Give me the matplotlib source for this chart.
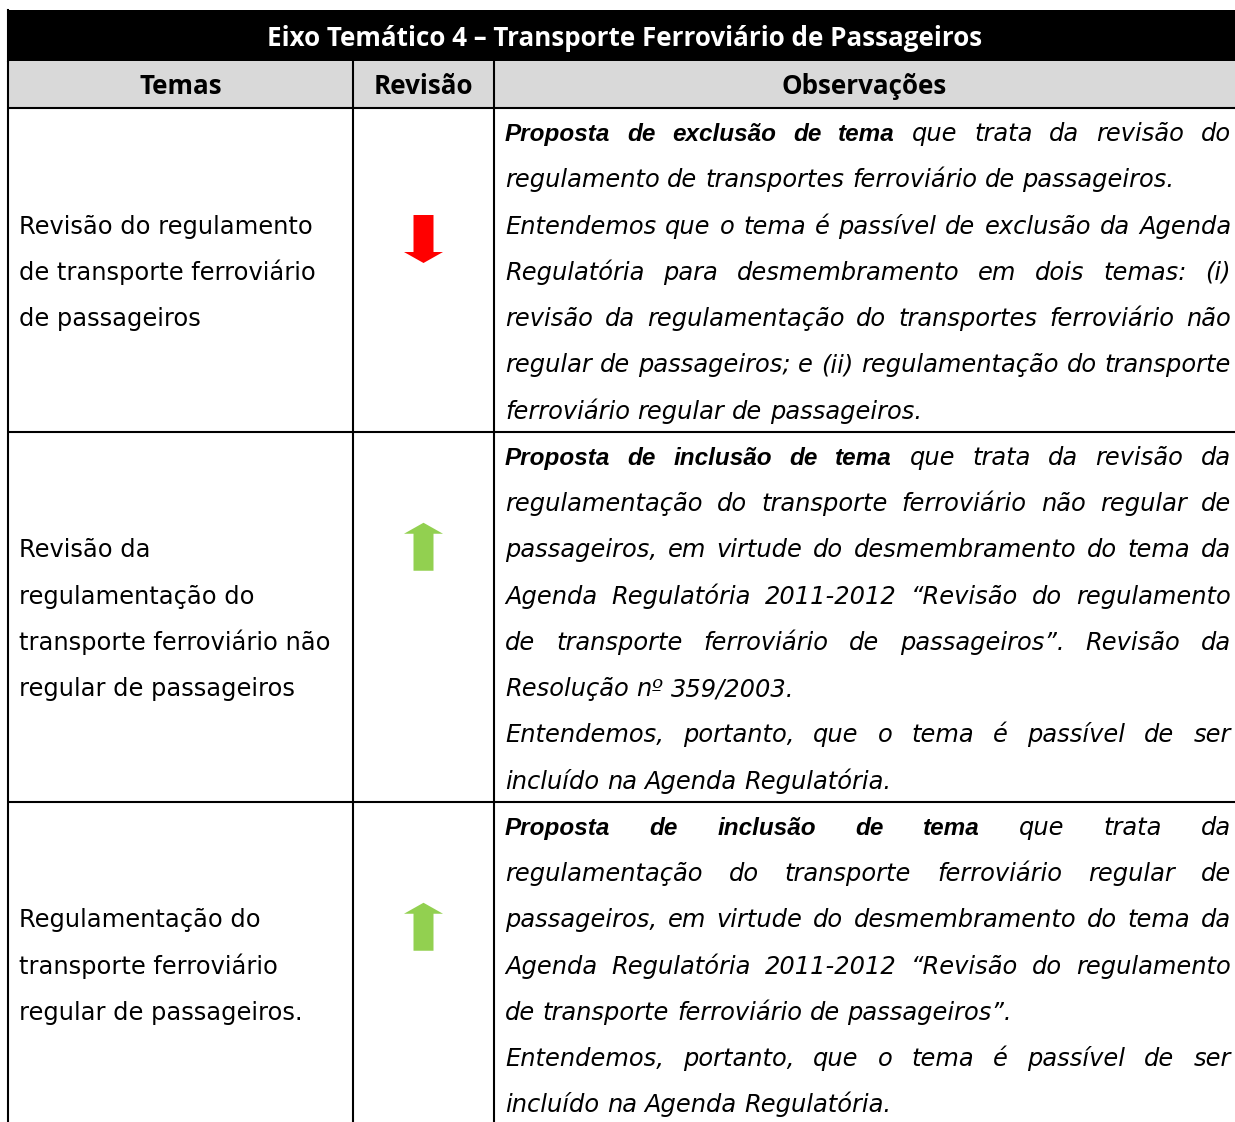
import matplotlib
matplotlib.use("Agg")
import matplotlib.pyplot as plt
from matplotlib.patches import Rectangle, Polygon

W, H = 1235, 1122
HEAD_FONT = "Open Sans"
BOLD_FONT = "Liberation Sans"
BODY_FONT = "DejaVu Sans"

title = "Eixo Temático 4 – Transporte Ferroviário de Passageiros"
col_headers = ["Temas", "Revisão", "Observações"]

temas = [
    ["Revisão do regulamento", "de transporte ferroviário", "de passageiros"],
    ["Revisão da", "regulamentação do", "transporte ferroviário não",
     "regular de passageiros"],
    ["Regulamentação do", "transporte ferroviário", "regular de passageiros."],
]

# arrow direction in the "Revisão" column
revisao = ["down", "up", "up"]
arrow_colors = {"down": "#FF0000", "up": "#92D050"}

# observations: paragraphs -> lines, words between ** are bold
observacoes = [
    [
        ["**Proposta de exclusão de tema** que trata da revisão do",
         "regulamento de transportes ferroviário de passageiros."],
        ["Entendemos que o tema é passível de exclusão da Agenda",
         "Regulatória para desmembramento em dois temas: (i)",
         "revisão da regulamentação do transportes ferroviário não",
         "regular de passageiros; e (ii) regulamentação do transporte",
         "ferroviário regular de passageiros."],
    ],
    [
        ["**Proposta de inclusão de tema** que trata da revisão da",
         "regulamentação do transporte ferroviário não regular de",
         "passageiros, em virtude do desmembramento do tema da",
         "Agenda Regulatória 2011-2012 “Revisão do regulamento",
         "de transporte ferroviário de passageiros”. Revisão da",
         "Resolução nº 359/2003."],
        ["Entendemos, portanto, que o tema é passível de ser",
         "incluído na Agenda Regulatória."],
    ],
    [
        ["**Proposta de inclusão de tema** que trata da",
         "regulamentação do transporte ferroviário regular de",
         "passageiros, em virtude do desmembramento do tema da",
         "Agenda Regulatória 2011-2012 “Revisão do regulamento",
         "de transporte ferroviário de passageiros”."],
        ["Entendemos, portanto, que o tema é passível de ser",
         "incluído na Agenda Regulatória."],
    ],
]

# layout (pixels)
col_x = [8, 353, 494, W]
title_top, title_bot, head_bot = 10, 61, 108
pitch = 46.25
text_left, text_right = 505, 1231
arrow_dy = [131, 115, 125]
lw = 1.5
body_size = 17.4
bold_size = 17.5
head_size = 18.7

fig = plt.figure(figsize=(W / 100, H / 100), dpi=100)
ax = fig.add_axes([0, 0, 1, 1])
ax.set_xlim(0, W)
ax.set_ylim(H, 0)
ax.axis("off")
renderer = fig.canvas.get_renderer()

# header bands
ax.add_patch(Rectangle((col_x[0], title_top), W - col_x[0], title_bot - title_top,
                       facecolor="black", edgecolor="none"))
ax.add_patch(Rectangle((col_x[0], title_bot), W - col_x[0], head_bot - title_bot,
                       facecolor="#D9D9D9", edgecolor="none"))
ax.text((col_x[0] + W) / 2 + 3, 46, title, color="white", fontsize=head_size,
        fontweight="bold", family=HEAD_FONT, ha="center", va="baseline")
for i, name in enumerate(col_headers):
    ax.text((col_x[i] + col_x[i + 1]) / 2, 94, name, color="black",
            fontsize=head_size, fontweight="bold", family=HEAD_FONT,
            ha="center", va="baseline")


def style_for(bold):
    if bold:
        return dict(family=BOLD_FONT, fontsize=bold_size, fontweight="bold",
                    fontstyle="italic")
    return dict(family=BODY_FONT, fontsize=body_size, fontstyle="oblique")


def width_of(s, **kw):
    t = ax.text(0, 0, s, **kw)
    w = t.get_window_extent(renderer).width
    t.remove()
    return w


def parse(line):
    words, bold = [], False
    for w in line.split(" "):
        if w.startswith("**"):
            bold = True
            w = w[2:]
        end = w.endswith("**")
        if end:
            w = w[:-2]
        words.append((w, bold))
        if end:
            bold = False
    return words


space_w = width_of("x x", **style_for(False)) - width_of("xx", **style_for(False))

# rows
y = head_bot
row_bounds = [y]
for r, paras in enumerate(observacoes):
    lines = []
    for para in paras:
        for j, ln in enumerate(para):
            lines.append((ln, j == len(para) - 1))
    row_h = len(lines) * pitch

    # observations, justified
    for k, (ln, last) in enumerate(lines):
        base = y + 33 + k * pitch
        words = parse(ln)
        styles = [style_for(b) for _, b in words]
        widths = [width_of(w, **s) for (w, _), s in zip(words, styles)]
        if last or len(words) == 1:
            gap = space_w
        else:
            gap = (text_right - text_left - sum(widths)) / (len(words) - 1)
        x = text_left
        for (w, _), s, wd in zip(words, styles, widths):
            ax.text(x, base, w, color="black", ha="left", va="baseline", **s)
            x += wd + gap

    # temas, vertically centred
    center = y + row_h / 2
    n = len(temas[r])
    for k, ln in enumerate(temas[r]):
        ax.text(19, center + (k - (n - 1) / 2) * pitch + 10, ln,
                fontsize=body_size, family=BODY_FONT, color="black",
                ha="left", va="baseline")

    # arrow
    cx = (col_x[1] + col_x[2]) / 2
    cy = y + arrow_dy[r]
    half_len, shaft, head_w, head_l = 24, 10, 19.5, 11
    s = 1 if revisao[r] == "down" else -1
    pts = [(cx - shaft, cy - s * half_len), (cx + shaft, cy - s * half_len),
           (cx + shaft, cy + s * (half_len - head_l)),
           (cx + head_w, cy + s * (half_len - head_l)),
           (cx, cy + s * half_len),
           (cx - head_w, cy + s * (half_len - head_l)),
           (cx - shaft, cy + s * (half_len - head_l))]
    ax.add_patch(Polygon(pts, closed=True, facecolor=arrow_colors[revisao[r]],
                         edgecolor="none"))

    y += row_h
    row_bounds.append(y)

# grid lines
for x in col_x[:3]:
    ax.plot([x, x], [title_bot, H], color="black", lw=lw, solid_capstyle="butt")
ax.plot([col_x[0], col_x[0]], [title_top, title_bot], color="black", lw=lw)
for yy in row_bounds:
    ax.plot([col_x[0], W], [yy, yy], color="black", lw=lw, solid_capstyle="butt")

fig.savefig("out.png", dpi=100)
